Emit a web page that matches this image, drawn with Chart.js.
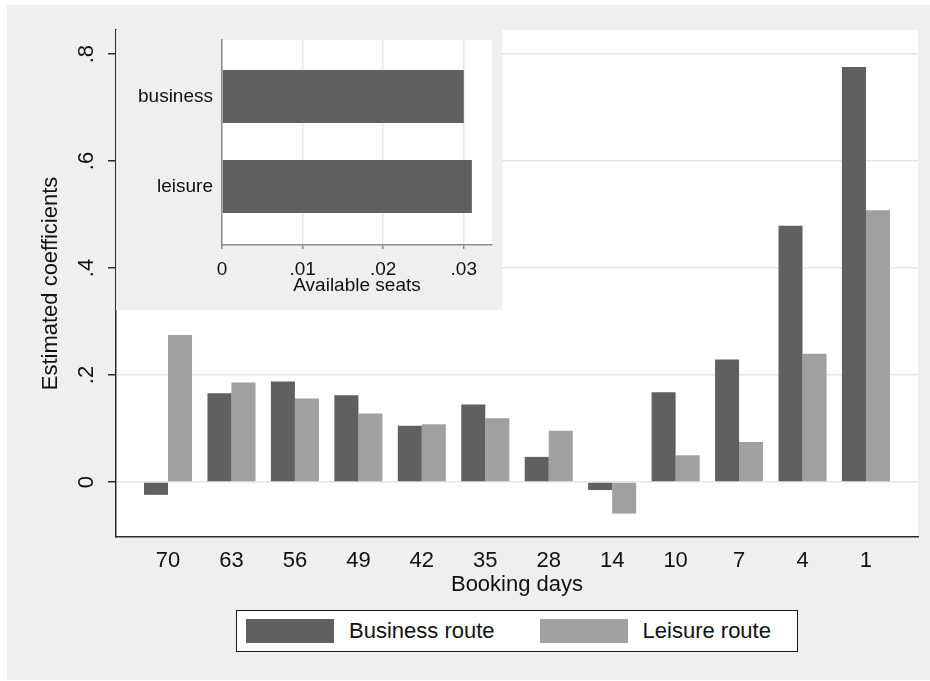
<!DOCTYPE html>
<html>
<head>
<meta charset="utf-8">
<title>Estimated coefficients by booking days</title>
<script src="https://cdn.jsdelivr.net/npm/chart.js@4.4.1/dist/chart.umd.min.js"></script>
<style>
  html, body { margin: 0; padding: 0; background: #fff; }
  #wrap { position: relative; width: 930px; height: 681px; overflow: hidden; font-family: "Liberation Sans", Arial, sans-serif; }
  #frame { position: absolute; left: 7px; top: 5px; right: 0; bottom: 1px; background: #efefef; }
  #main { position: absolute; left: 0; top: 0; }
  #inset { position: absolute; left: 116px; top: 30px; background: #efefef; }
  #legend { position: absolute; left: 236px; top: 610px; width: 562px; height: 42px; box-sizing: border-box;
            border: 1.5px solid #1a1a1a; background: #fff; display: flex; align-items: center; padding-left: 9px; }
  #legend .sw { width: 88px; height: 24px; flex: none; }
  #legend .lb { font-size: 22px; color: #111; margin-left: 15px; margin-right: 45px; white-space: nowrap; }
</style>
</head>
<body>
<div id="wrap">
  <div id="frame"></div>
  <canvas id="main" width="930" height="681"></canvas>
  <canvas id="inset" width="386" height="280"></canvas>
  <div id="legend"></div>
</div>
<script>
// booking days on the x axis (read left to right)
const bookingDays = ['70', '63', '56', '49', '42', '35', '28', '14', '10', '7', '4', '1'];
const businessRoute = [-0.024, 0.166, 0.188, 0.162, 0.105, 0.145, 0.047, -0.015, 0.168, 0.229, 0.479, 0.776];
const leisureRoute = [0.275, 0.186, 0.156, 0.128, 0.108, 0.119, 0.096, -0.059, 0.050, 0.075, 0.240, 0.508];
const yTickValues = [0, 0.2, 0.4, 0.6, 0.8];
const yTickLabels = ['0', '.2', '.4', '.6', '.8'];

// inset: available seats coefficient
const seatCategories = ['business', 'leisure'];
const seatValues = [0.0300, 0.0310];
const seatTickValues = [0, 0.01, 0.02, 0.03];
const seatTickLabels = ['0', '.01', '.02', '.03'];

const seriesNames = ['Business route', 'Leisure route'];
const seriesColors = ['#606060', '#a0a0a0'];

const FONT = '"Liberation Sans", Arial, sans-serif';
Chart.defaults.font.family = FONT;
Chart.defaults.color = '#111';

// white plot region like stata's plotregion
const plotBg = {
    id: 'plotBg',
    beforeDraw(chart) {
        const a = chart.chartArea;
        const ctx = chart.ctx;
        ctx.save();
        ctx.fillStyle = '#fff';
        ctx.fillRect(a.left, a.top, a.right - a.left, a.bottom - a.top);
        ctx.restore();
    }
};

// labels sit away from the edges, so no extra room is needed for them
function noEdgePadding(s) {
    s.paddingTop = 0;
    s.paddingBottom = 0;
    s.paddingLeft = 0;
    s.paddingRight = 0;
}

const mainChart = new Chart(document.getElementById('main'), {
    type: 'bar',
    data: {
        datasets: [
            {
                label: seriesNames[0],
                data: businessRoute.map((v, i) => ({x: i, y: v})),
                backgroundColor: seriesColors[0],
                categoryPercentage: 0.757,
                barPercentage: 1
            },
            {
                label: seriesNames[1],
                data: leisureRoute.map((v, i) => ({x: i, y: v})),
                backgroundColor: seriesColors[1],
                categoryPercentage: 0.757,
                barPercentage: 1
            }
        ]
    },
    options: {
        responsive: false,
        animation: false,
        layout: { padding: { left: 0, top: 30, right: 12, bottom: 71 } },
        plugins: {
            legend: { display: false },
            tooltip: { enabled: false }
        },
        scales: {
            x: {
                type: 'linear',
                offset: false,
                min: -0.82,
                max: 11.82,
                afterBuildTicks: s => { s.ticks = bookingDays.map((d, i) => ({value: i})); },
                afterFit: s => { s.height = 73; noEdgePadding(s); },
                grid: { display: false, drawTicks: false },
                border: { display: true, color: '#2b2b2b', width: 1.5 },
                ticks: {
                    callback: v => bookingDays[v],
                    autoSkip: false,
                    maxRotation: 0,
                    padding: 11,
                    color: '#111',
                    font: { size: 22 }
                },
                title: {
                    display: true,
                    text: 'Booking days',
                    color: '#111',
                    font: { size: 22 },
                    padding: { top: 0, bottom: 12 }
                }
            },
            y: {
                min: -0.1028,
                max: 0.845,
                afterBuildTicks: s => { s.ticks = yTickValues.map(v => ({value: v})); },
                afterFit: s => { s.width = 116; noEdgePadding(s); },
                grid: { color: '#e6e6e6', lineWidth: 1.5, tickColor: '#2b2b2b', tickLength: 8, tickWidth: 1.5 },
                border: { display: true, color: '#2b2b2b', width: 1.5 },
                ticks: {
                    callback: (v, i) => yTickLabels[i],
                    minRotation: 90,
                    maxRotation: 90,
                    crossAlign: 'center',
                    padding: 12,
                    color: '#111',
                    font: { size: 22 }
                },
                title: {
                    display: true,
                    text: 'Estimated coefficients',
                    color: '#111',
                    font: { size: 22 },
                    padding: { top: 38, bottom: 0 }
                }
            }
        }
    },
    plugins: [plotBg]
});

const insetChart = new Chart(document.getElementById('inset'), {
    type: 'bar',
    data: {
        datasets: [{
            label: 'Available seats',
            data: seatValues.map((v, i) => ({x: v, y: i})),
            backgroundColor: seriesColors[0],
            categoryPercentage: 0.589,
            barPercentage: 1
        }]
    },
    options: {
        indexAxis: 'y',
        responsive: false,
        animation: false,
        layout: { padding: { left: 0, top: 10, right: 10, bottom: 0 } },
        plugins: {
            legend: { display: false },
            tooltip: { enabled: false }
        },
        scales: {
            x: {
                type: 'linear',
                min: 0,
                max: 0.0335,
                afterBuildTicks: s => { s.ticks = seatTickValues.map(v => ({value: v})); },
                afterFit: s => { s.height = 65; noEdgePadding(s); },
                grid: { color: '#e6e6e6', lineWidth: 1.5, tickColor: '#8c8c8c', tickLength: 4, tickWidth: 1.5 },
                border: { display: true, color: '#8c8c8c', width: 1.5 },
                ticks: {
                    callback: (v, i) => seatTickLabels[i],
                    maxRotation: 0,
                    padding: 9,
                    color: '#111',
                    font: { size: 19 }
                },
                title: {
                    display: true,
                    text: 'Available seats',
                    color: '#111',
                    font: { size: 19 },
                    padding: { top: 0, bottom: 13 }
                }
            },
            y: {
                type: 'linear',
                reverse: true,
                offset: false,
                min: -0.628,
                max: 1.65,
                afterBuildTicks: s => { s.ticks = seatCategories.map((c, i) => ({value: i})); },
                afterFit: s => { s.width = 106; noEdgePadding(s); },
                grid: { display: false, drawTicks: false },
                border: { display: true, color: '#8c8c8c', width: 1.5 },
                ticks: {
                    callback: v => seatCategories[v],
                    padding: 9,
                    color: '#111',
                    font: { size: 19 }
                }
            }
        }
    },
    plugins: [plotBg]
});

// legend box, built from the series arrays
const legendEl = document.getElementById('legend');
seriesNames.forEach((name, i) => {
    const sw = document.createElement('span');
    sw.className = 'sw';
    sw.style.background = seriesColors[i];
    const lb = document.createElement('span');
    lb.className = 'lb';
    lb.textContent = name;
    legendEl.appendChild(sw);
    legendEl.appendChild(lb);
});
</script>
</body>
</html>
